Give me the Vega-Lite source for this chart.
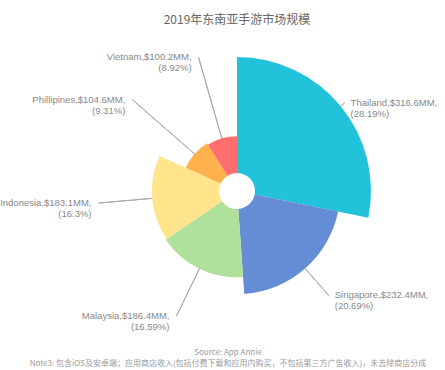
{
  "$schema": "https://vega.github.io/schema/vega-lite/v6.json",
  "padding": {"left": 0, "top": 14, "right": 0, "bottom": 0},
  "background": "white",
  "config": {"view": {"stroke": null}, "font": "Noto Sans CJK SC"},
  "title": {
    "text": ["Source: App Annie", "Note3: 包含iOS及安卓端；应用商店收入(包括付费下载和应用内购买，不包括第三方广告收入)，未去除商店分成"],
    "orient": "bottom", "anchor": "middle", "fontSize": 8, "fontWeight": "normal",
    "color": "#999999", "lineHeight": 10.5, "dx": -9, "offset": 2
  },
  "vconcat": [
    {
      "width": 474,
      "height": 312,
      "title": {"text": "2019年东南亚手游市场规模", "anchor": "middle", "fontSize": 12, "fontWeight": "normal", "color": "#666666", "offset": 8},
      "data": {
        "values": [
          {"country": "Thailand", "value": 316.6, "pct": 28.19},
          {"country": "Singapore", "value": 232.4, "pct": 20.69},
          {"country": "Malaysia", "value": 186.4, "pct": 16.59},
          {"country": "Indonesia", "value": 183.1, "pct": 16.3},
          {"country": "Phillipines", "value": 104.6, "pct": 9.31},
          {"country": "Vietnam", "value": 100.2, "pct": 8.92}
        ]
      },
      "transform": [
        {"window": [{"op": "sum", "field": "value", "as": "cum"}], "sort": [{"field": "value", "order": "descending"}]},
        {"calculate": "datum.cum - datum.value / 2", "as": "mid"},
        {"calculate": "datum.country + ',$' + datum.value + 'MM,\\n (' + datum.pct + '%)'", "as": "label"}
      ],
      "layer": [
        {
          "mark": {"type": "arc", "radius2": 18},
          "encoding": {
            "theta": {"field": "value", "type": "quantitative", "stack": true},
            "radius": {"field": "value", "type": "quantitative", "scale": {"type": "linear", "zero": true, "range": [18, 134]}},
            "color": {
              "field": "country", "type": "nominal", "legend": null,
              "scale": {
                "domain": ["Thailand", "Singapore", "Malaysia", "Indonesia", "Phillipines", "Vietnam"],
                "range": ["#22C2DA", "#658DD6", "#AFE19B", "#FFE48C", "#FFB24B", "#FF6E6E"]
              }
            },
            "order": {"field": "value", "type": "quantitative", "sort": "descending"}
          }
        },
        {
          "mark": {"type": "arc", "filled": false, "stroke": "#aaaaaa", "strokeWidth": 1},
          "encoding": {
            "theta": {"field": "mid", "type": "quantitative", "stack": null},
            "theta2": {"field": "mid"},
            "radius": {"field": "value", "type": "quantitative"},
            "radius2": {"value": 139}
          }
        },
        {
          "transform": [{"filter": "datum.mid < 561.65"}],
          "mark": {"type": "text", "radius": 139, "align": "left", "dx": 6, "baseline": "middle", "lineBreak": "\n", "font": "Liberation Sans", "fontSize": 9.5, "lineHeight": 11, "color": "#888888"},
          "encoding": {
            "theta": {"field": "mid", "type": "quantitative", "stack": null},
            "text": {"field": "label"}
          }
        },
        {
          "transform": [{"filter": "datum.mid >= 561.65"}],
          "mark": {"type": "text", "radius": 139, "align": "right", "dx": -7, "baseline": "middle", "lineBreak": "\n", "font": "Liberation Sans", "fontSize": 9.5, "lineHeight": 11, "color": "#888888"},
          "encoding": {
            "theta": {"field": "mid", "type": "quantitative", "stack": null},
            "text": {"field": "label"}
          }
        }
      ]
    }
  ]
}
